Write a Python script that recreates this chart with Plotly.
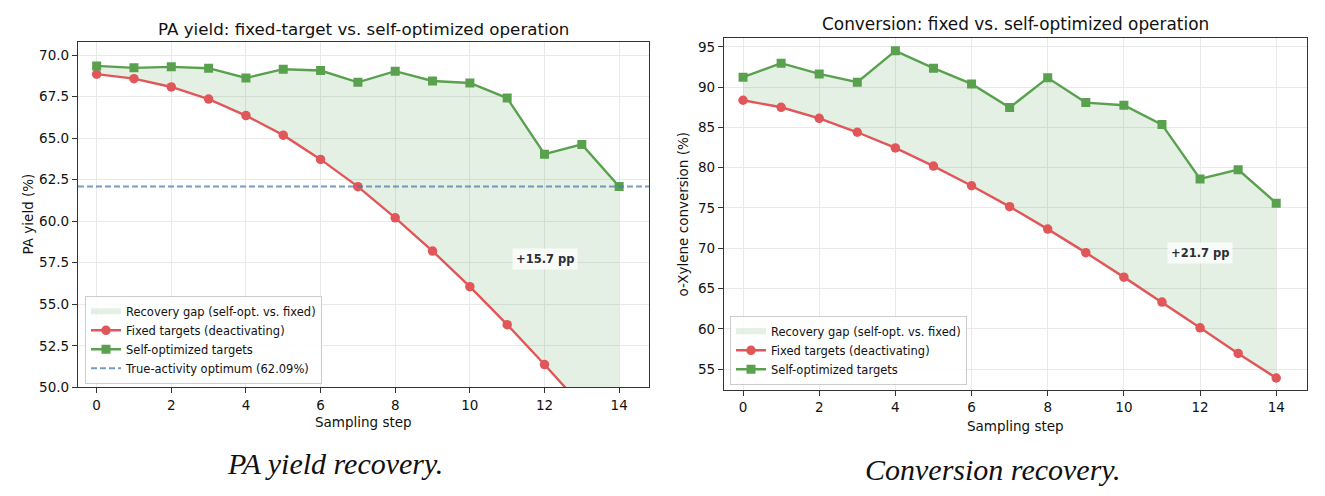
import plotly.graph_objects as go

# ---------------- data ----------------
steps = list(range(15))

pa_fixed = [68.85, 68.58, 68.08, 67.35, 66.36, 65.18, 63.72, 62.08, 60.20,
            58.20, 56.06, 53.77, 51.37, 48.90, 46.39]
pa_selfopt = [69.35, 69.23, 69.29, 69.21, 68.62, 69.15, 69.07, 68.36, 69.03,
              68.44, 68.32, 67.41, 64.03, 64.62, 62.09]
pa_optimum = 62.09

conv_fixed = [88.37, 87.50, 86.13, 84.40, 82.45, 80.20, 77.76, 75.17, 72.38,
              69.46, 66.42, 63.33, 60.13, 56.95, 53.90]
conv_selfopt = [91.23, 92.97, 91.64, 90.61, 94.50, 92.35, 90.40, 87.46, 91.15,
                88.08, 87.75, 85.35, 78.60, 79.76, 75.60]

pa_xticks = [0, 2, 4, 6, 8, 10, 12, 14]
pa_yticks = [50.0, 52.5, 55.0, 57.5, 60.0, 62.5, 65.0, 67.5, 70.0]
conv_yticks = [55, 60, 65, 70, 75, 80, 85, 90, 95]
label_step = 12  # step where the gap label sits

# ---------------- style ----------------
RED = "#E15759"
GREEN = "#59A14F"
BLUE = "rgba(78,121,167,0.75)"
FILL = "rgba(89,161,79,0.16)"
FONT = "DejaVu Sans"
W, H = 1325, 496
H_EFF = 487.0  # effective rendered height used for pixel -> paper mapping

fig = go.Figure()


def add_panel(xa, ya, legend, fixed, selfopt):
    xs = steps + steps[::-1]
    ys = selfopt + fixed[::-1]
    fig.add_trace(go.Scatter(
        x=xs, y=ys, fill="toself", fillcolor=FILL, mode="none",
        name="Recovery gap (self-opt. vs. fixed)", xaxis=xa, yaxis=ya,
        legend=legend, legendrank=1, hoverinfo="skip"))
    fig.add_trace(go.Scatter(
        x=steps, y=fixed, mode="lines+markers",
        line=dict(color=RED, width=2.4),
        marker=dict(symbol="circle", size=9.5, color=RED),
        name="Fixed targets (deactivating)", xaxis=xa, yaxis=ya,
        legend=legend, legendrank=2))
    fig.add_trace(go.Scatter(
        x=steps, y=selfopt, mode="lines+markers",
        line=dict(color=GREEN, width=2.4),
        marker=dict(symbol="square", size=9, color=GREEN),
        name="Self-optimized targets", xaxis=xa, yaxis=ya,
        legend=legend, legendrank=3))


add_panel("x", "y", "legend", pa_fixed, pa_selfopt)
add_panel("x2", "y2", "legend2", conv_fixed, conv_selfopt)

# true-activity optimum line
fig.add_shape(type="line", xref="x domain", yref="y", x0=0, x1=1,
              y0=pa_optimum, y1=pa_optimum,
              line=dict(color=BLUE, width=2, dash="6px,3px"),
              showlegend=True, legend="legend", legendrank=4,
              name=f"True-activity optimum ({pa_optimum:.2f}%)")

# gap labels
i = steps.index(label_step)
for xr, yr, fixed, selfopt in (("x", "y", pa_fixed, pa_selfopt),
                               ("x2", "y2", conv_fixed, conv_selfopt)):
    gap = selfopt[-1] - fixed[-1]
    fig.add_annotation(x=label_step, y=(selfopt[i] + fixed[i]) / 2,
                       xref=xr, yref=yr, text=f"<b>+{gap:.1f} pp</b>",
                       showarrow=False,
                       font=dict(family=FONT, size=11.5, color="#2b2f33"),
                       bgcolor="rgba(255,255,255,0.75)", borderpad=3)

axis_common = dict(
    showline=True, mirror=True, linecolor="#333333", linewidth=1.3,
    ticks="outside", ticklen=5, tickwidth=1.1, tickcolor="#333333",
    showgrid=True, gridcolor="#e9e9e9", gridwidth=1, zeroline=False,
    tickfont=dict(family=FONT, size=13.5, color="#111111"),
)


def px_x(p):
    return p / W


def px_y(p):
    return 1 - p / H_EFF


fig.update_layout(
    width=W, height=H,
    margin=dict(l=0, r=0, t=0, b=0),
    paper_bgcolor="white", plot_bgcolor="white",
    font=dict(family=FONT, color="#111111"),
    xaxis=dict(domain=[px_x(78), px_x(649)], range=[-0.5, 14.8],
               tickvals=pa_xticks, anchor="y", **axis_common),
    yaxis=dict(domain=[px_y(386.5), px_y(41.7)], range=[50, 70.8],
               tickvals=pa_yticks, tickformat=".1f", anchor="x",
               **axis_common),
    xaxis2=dict(domain=[px_x(724), px_x(1306.7)], range=[-0.5, 14.8],
                tickvals=pa_xticks, anchor="y2", **axis_common),
    yaxis2=dict(domain=[px_y(389.3), px_y(38.3)], range=[52.4, 96.05],
                tickvals=conv_yticks, anchor="x2", **axis_common),
    legend=dict(x=px_x(85), y=px_y(383), xanchor="left", yanchor="bottom",
                bgcolor="rgba(255,255,255,0.85)", bordercolor="#cccccc",
                borderwidth=1, font=dict(family=FONT, size=11.5),
                tracegroupgap=0, itemwidth=30),
    legend2=dict(x=px_x(730), y=px_y(384), xanchor="left", yanchor="bottom",
                 bgcolor="rgba(255,255,255,0.85)", bordercolor="#cccccc",
                 borderwidth=1, font=dict(family=FONT, size=11.5),
                 tracegroupgap=0, itemwidth=30),
    showlegend=True,
)

texts = [
    ("PA yield: fixed-target vs. self-optimized operation", 363.5, 29, 16.7, 0),
    ("Conversion: fixed vs. self-optimized operation", 1015, 24, 16.9, 0),
    ("Sampling step", 363.5, 421, 13.5, 0),
    ("Sampling step", 1015, 425, 13.5, 0),
    ("PA yield (%)", 28, 214, 13.5, -90),
    ("o-Xylene conversion (%)", 683, 214, 13.5, -90),
]
for t, x, y, s, ang in texts:
    fig.add_annotation(text=t, x=px_x(x), y=px_y(y), xref="paper", yref="paper",
                       showarrow=False, xanchor="center", yanchor="middle",
                       textangle=ang, font=dict(family=FONT, size=s, color="#111111"))

captions = [("PA yield recovery.", 335, 463), ("Conversion recovery.", 992, 469)]
for t, x, y in captions:
    fig.add_annotation(text=f"<i>{t}</i>", x=px_x(x), y=px_y(y), xref="paper",
                       yref="paper", showarrow=False, xanchor="center",
                       yanchor="middle",
                       font=dict(family="Liberation Serif", size=30, color="#111111"))

fig.write_html("out.html")
